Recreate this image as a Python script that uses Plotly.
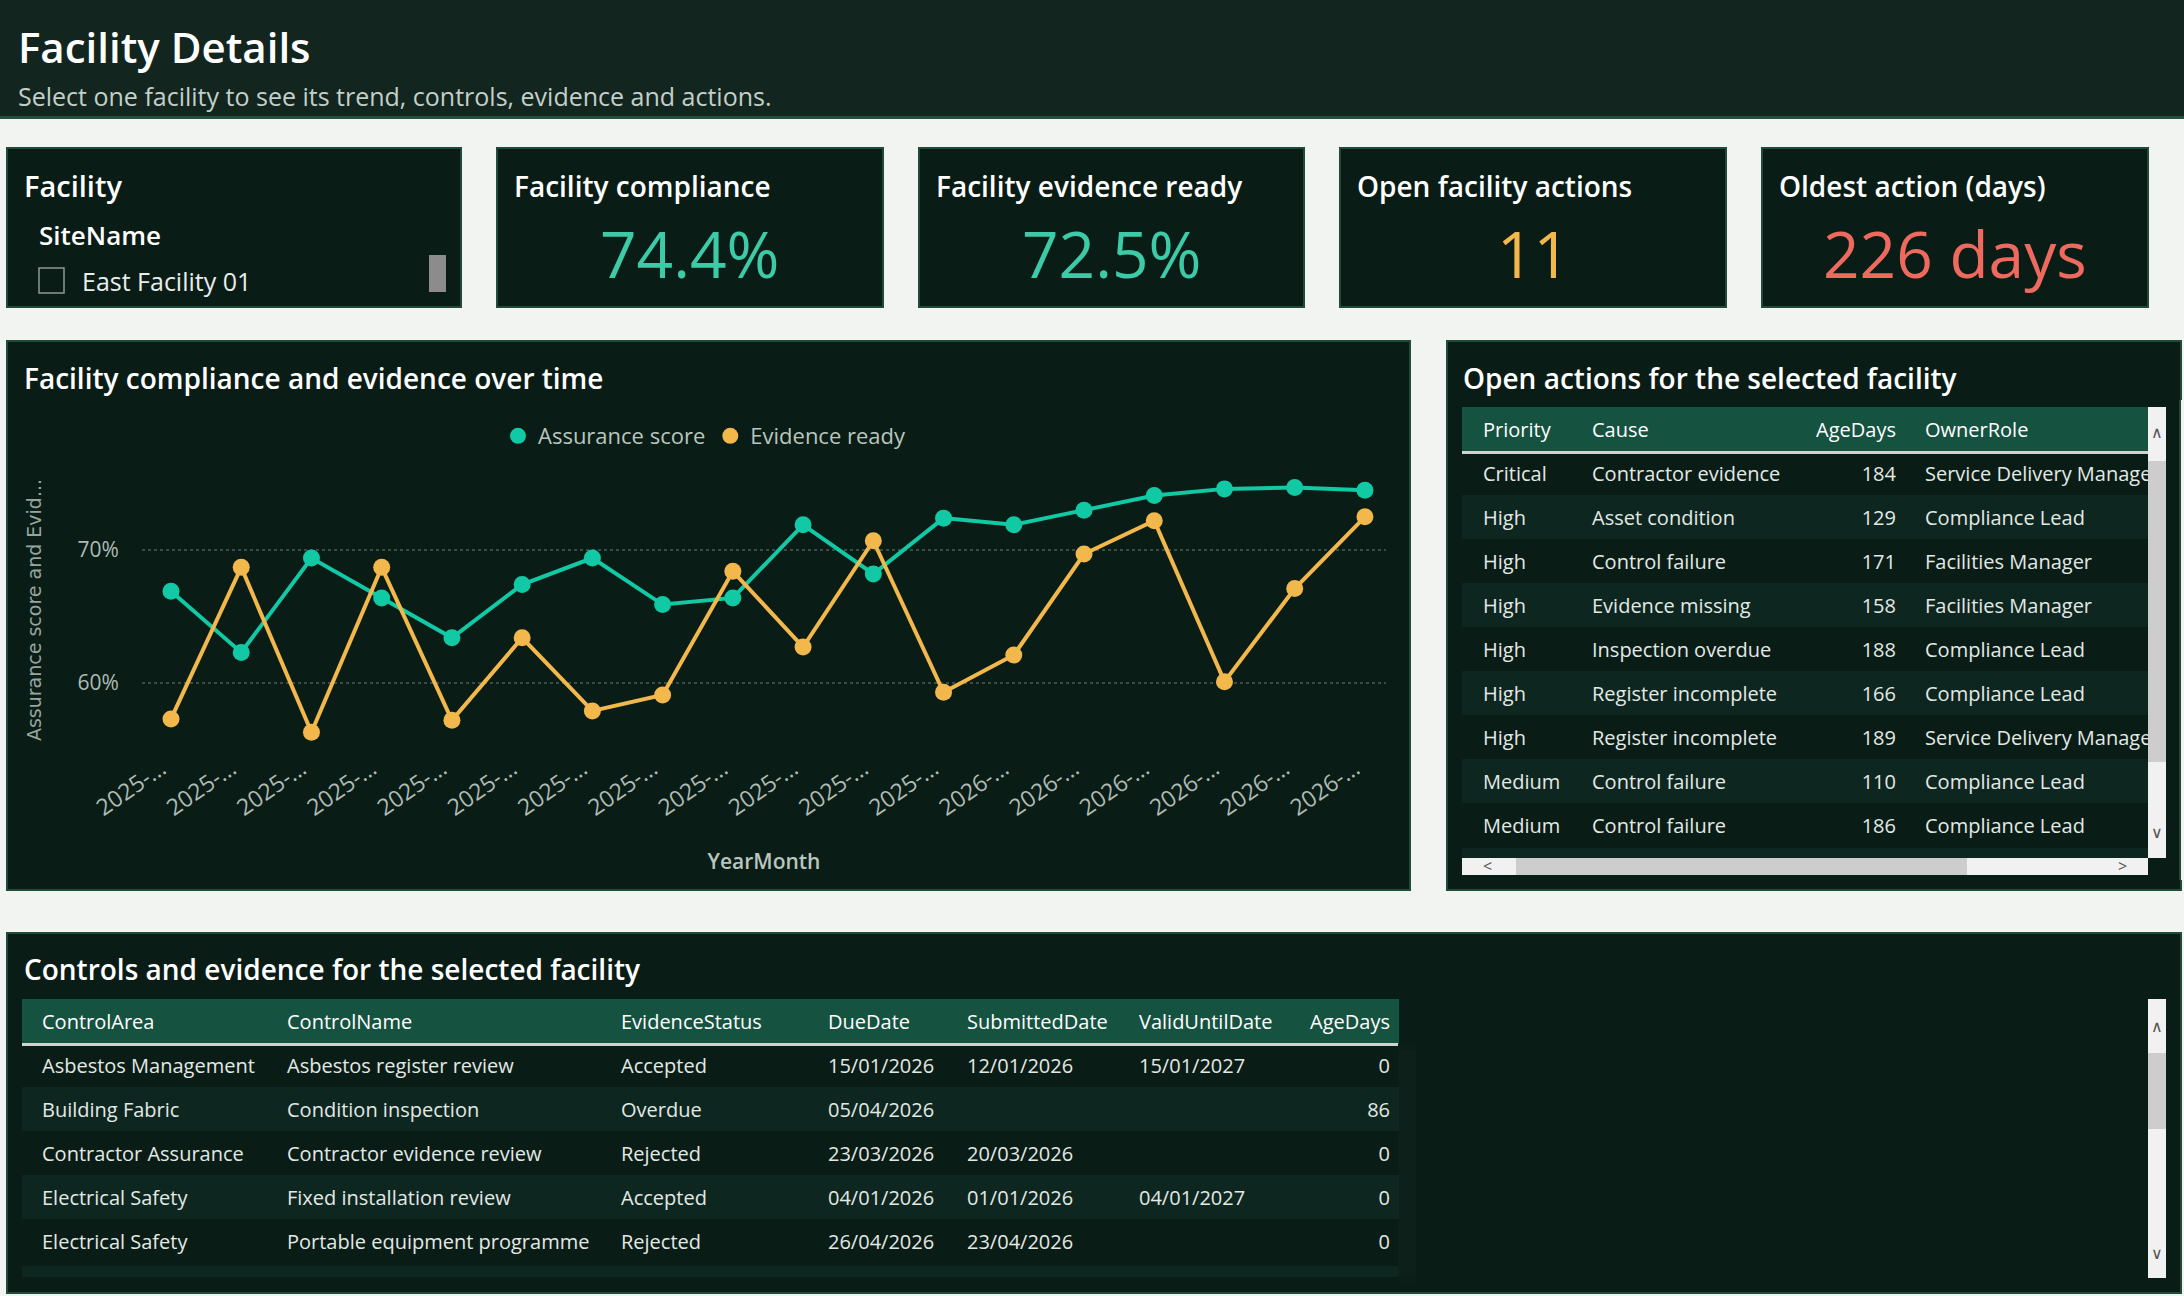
import plotly.graph_objects as go

W, H = 2184, 1296
FONT = 'Segoe UI, Open Sans, sans-serif'

PAGE = '#f2f4f1'
BAND = '#13251f'
CARD = '#0a1c16'
EDGE = '#1f4a3c'
ROW_ALT = '#0e2620'
HEAD = '#15523f'
TEAL = '#12c9a5'
GOLD = '#f2b84b'
MUTED = '#aebbb4'
CLEAR = 'rgba(0,0,0,0)'

## Data

months = ['2025-01', '2025-02', '2025-03', '2025-04', '2025-05', '2025-06',
          '2025-07', '2025-08', '2025-09', '2025-10', '2025-11', '2025-12',
          '2026-01', '2026-02', '2026-03', '2026-04', '2026-05', '2026-06']
assurance = [66.9, 62.3, 69.4, 66.4, 63.4, 67.4, 69.4, 65.9, 66.4,
             71.9, 68.2, 72.4, 71.9, 73.0, 74.1, 74.6, 74.7, 74.5]
evidence = [57.3, 68.7, 56.3, 68.7, 57.2, 63.4, 57.9, 59.1, 68.4,
            62.7, 70.7, 59.3, 62.1, 69.7, 72.2, 60.1, 67.1, 72.5]
y_ticks = [60, 70]

kpi_titles = ['Facility compliance', 'Facility evidence ready',
              'Open facility actions', 'Oldest action (days)']
kpi_values = ['74.4%', '72.5%', '11', '226 days']

act_header = ['Priority', 'Cause', 'AgeDays', 'OwnerRole']
act_priority = ['Critical', 'High', 'High', 'High', 'High', 'High', 'High', 'Medium', 'Medium']
act_cause = ['Contractor evidence', 'Asset condition', 'Control failure', 'Evidence missing',
             'Inspection overdue', 'Register incomplete', 'Register incomplete',
             'Control failure', 'Control failure']
act_age = [184, 129, 171, 158, 188, 166, 189, 110, 186]
act_owner = ['Service Delivery Manager', 'Compliance Lead', 'Facilities Manager',
             'Facilities Manager', 'Compliance Lead', 'Compliance Lead',
             'Service Delivery Manager', 'Compliance Lead', 'Compliance Lead']

ctl_header = ['ControlArea', 'ControlName', 'EvidenceStatus', 'DueDate',
              'SubmittedDate', 'ValidUntilDate', 'AgeDays']
ctl_area = ['Asbestos Management', 'Building Fabric', 'Contractor Assurance',
            'Electrical Safety', 'Electrical Safety']
ctl_name = ['Asbestos register review', 'Condition inspection', 'Contractor evidence review',
            'Fixed installation review', 'Portable equipment programme']
ctl_status = ['Accepted', 'Overdue', 'Rejected', 'Accepted', 'Rejected']
ctl_due = ['15/01/2026', '05/04/2026', '23/03/2026', '04/01/2026', '26/04/2026']
ctl_submitted = ['12/01/2026', '', '20/03/2026', '01/01/2026', '23/04/2026']
ctl_valid = ['15/01/2027', '', '', '04/01/2027', '']
ctl_age = [0, 86, 0, 0, 0]

## Helpers

def px(x):
    return x / W

def py(y):
    return 1 - y / H

def rect(x0, y0, x1, y1, fill, line=None, lw=0, layer='below'):
    return dict(type='rect', xref='paper', yref='paper',
                x0=px(x0), x1=px(x1), y0=py(y1), y1=py(y0),
                fillcolor=fill, line=dict(color=line or fill, width=lw), layer=layer)

def label(x, y, s, size, color='#ffffff', weight=400, anchor='left', family=FONT):
    return dict(x=px(x), y=py(y), xref='paper', yref='paper', text=s, showarrow=False,
                xanchor=anchor, yanchor='middle',
                font=dict(family=family, size=size, color=color, weight=weight))

shapes = []
ann = []

# header band
shapes.append(rect(0, 0, W, 116, BAND))
shapes.append(rect(0, 116, W, 119, '#24503f'))
ann.append(label(16, 47, 'Facility Details', 42, weight=600))
ann.append(label(16, 96, 'Select one facility to see its trend, controls, evidence and actions.', 25, color='#c3d0c9'))

# cards
cards = [(7, 148, 461, 307), (497, 148, 883, 307), (919, 148, 1304, 307),
         (1340, 148, 1726, 307), (1762, 148, 2148, 307),
         (7, 341, 1410, 890), (1447, 341, 2181, 890), (7, 933, 2181, 1293)]
for c in cards:
    shapes.append(rect(*c, CARD, EDGE, 2))

# slicer
ann.append(label(22, 186, 'Facility', 29, weight=600))
ann.append(label(37, 235, 'SiteName', 26, weight=600))
ann.append(label(80, 281, 'East Facility 01', 25, color='#e8eeea'))
shapes.append(rect(39, 268, 64, 293, CARD, '#8f9994', 1.5))
shapes.append(rect(429, 255, 446, 292, '#8c8c8c'))

# KPI cards
kpi_colors = ['#3dcaa6', '#3dcaa6', GOLD, '#ee6a5f']
for (x0, y0, x1, y1), t, v, col in zip(cards[1:5], kpi_titles, kpi_values, kpi_colors):
    ann.append(label(x0 + 15, 186, t, 28, weight=600))
    ann.append(label((x0 + x1) / 2, 254, v, 64, color=col, anchor='center'))

# card titles
ann.append(label(22, 378, 'Facility compliance and evidence over time', 28, weight=600))
ann.append(label(1461, 378, 'Open actions for the selected facility', 28, weight=600))
ann.append(label(22, 969, 'Controls and evidence for the selected facility', 28, weight=600))

## Chart

fig = go.Figure()
for name, vals, col in [('Assurance score', assurance, TEAL), ('Evidence ready', evidence, GOLD)]:
    fig.add_trace(go.Scatter(x=months, y=vals, mode='lines', line=dict(color=col, width=4),
                             showlegend=False, hoverinfo='skip'))
    fig.add_trace(go.Scatter(x=months, y=vals, mode='markers', name=name,
                             marker=dict(color=col, size=17)))

## Tables
# drawn twice: a striped layer, then the text layer nudged down so it sits mid-row

hdr_font = dict(family=FONT, size=20, color='#ffffff')
cell_font = dict(family=FONT, size=20, color='#e3e9e5')
NUDGE = 7

def add_table(x0, x1, top, bottom, widths, header, columns, align, gap_after=None):
    n = len(columns[0])
    rows = [CARD if i % 2 == 0 else ROW_ALT for i in range(n)]
    cols = [[''] * n] + columns
    hdr = [''] + header
    al = ['left'] + align
    if gap_after is not None:
        k = gap_after + 2
        cols.insert(k, [''] * n)
        hdr.insert(k, '')
        al.insert(k, 'left')
    fig.add_trace(go.Table(
        domain=dict(x=[px(x0), px(x1)], y=[py(bottom), py(top)]),
        columnwidth=widths,
        header=dict(values=[''] * len(hdr), fill_color=HEAD, line_color=HEAD, height=44),
        cells=dict(values=[[''] * n for _ in cols], fill_color=[rows] * len(cols),
                   line_color=[rows] * len(cols), height=44),
        hoverinfo='skip',
    ))
    fig.add_trace(go.Table(
        domain=dict(x=[px(x0), px(x1)], y=[py(bottom + NUDGE), py(top + NUDGE)]),
        columnwidth=widths,
        header=dict(values=hdr, fill_color=CLEAR, line_color=CLEAR, height=44,
                    font=hdr_font, align=al),
        cells=dict(values=cols, fill_color=CLEAR, line_color=CLEAR, height=44,
                   font=cell_font, align=al),
    ))

add_table(1462, W, 407, 858, [13, 109, 216, 104, 13, 267], act_header,
          [act_priority, act_cause, act_age, act_owner],
          ['left', 'left', 'right', 'left'], gap_after=2)
add_table(22, 1398, 999, 1277, [12, 245, 334, 207, 139, 172, 164, 103], ctl_header,
          [ctl_area, ctl_name, ctl_status, ctl_due, ctl_submitted, ctl_valid, ctl_age],
          ['left'] * 6 + ['right'])

# header underlines, partial row, masks and scrollbars
shapes.append(rect(1462, 451, 2148, 454, '#d0d4d0', layer='above'))
shapes.append(rect(22, 1043, 1398, 1046, '#d0d4d0', layer='above'))
shapes.append(rect(22, 1266, 1398, 1277, ROW_ALT))
shapes.append(rect(1462, 848, 2148, 858, ROW_ALT, layer='above'))
shapes.append(rect(2166, 400, 2181, 880, CARD, layer='above'))
shapes.append(rect(2181, 400, W, 880, PAGE, layer='above'))
shapes.append(dict(type='line', xref='paper', yref='paper', x0=px(2180), x1=px(2180),
                   y0=py(880), y1=py(400), line=dict(color=EDGE, width=2), layer='above'))
shapes.append(rect(2148, 407, 2166, 858, '#f1f1f1', layer='above'))
shapes.append(rect(2148, 461, 2166, 762, '#cdcdcd', layer='above'))
shapes.append(rect(1462, 858, 2148, 875, '#f1f1f1', layer='above'))
shapes.append(rect(1516, 858, 1967, 875, '#cdcdcd', layer='above'))
shapes.append(rect(2148, 999, 2166, 1278, '#f1f1f1', layer='above'))
shapes.append(rect(2148, 1053, 2166, 1129, '#cdcdcd', layer='above'))
for x, y, s in [(2157, 432, '∧'), (2157, 832, '∨'), (1487, 866, '<'), (2122, 866, '>'),
                (2157, 1026, '∧'), (2157, 1253, '∨')]:
    ann.append(label(x, y, s, 16, color='#555555', anchor='center'))

## Layout

fig.update_layout(
    template='none',
    width=W, height=H, margin=dict(l=0, r=0, t=0, b=0, pad=0),
    paper_bgcolor=PAGE, plot_bgcolor=CLEAR,
    font=dict(family=FONT, color=MUTED),
    shapes=shapes, annotations=ann,
    legend=dict(orientation='h', x=px(705), xanchor='center', y=py(436), yanchor='middle',
                font=dict(size=22, color='#b9c6bf'), bgcolor=CLEAR),
    xaxis=dict(domain=[px(142), px(1386)], type='category', range=[-0.413, 17.3],
               automargin=False, tickmode='array', tickvals=months,
               ticktext=[mo[:4] + '-...' for mo in months],
               tickangle=-35, tickfont=dict(size=23, color=MUTED), showgrid=False,
               zeroline=False, showline=False, ticks='', ticklabelshift=-10,
               title=dict(text='YearMonth', standoff=32,
                          font=dict(size=21, color='#b9c6bf', weight=600))),
    yaxis=dict(domain=[py(750), py(470)], range=[54.96, 76.02], automargin=False,
               tickmode='array', tickvals=y_ticks, ticktext=[f'{v}%' for v in y_ticks],
               tickfont=dict(size=21, color=MUTED), ticks='outside', ticklen=18, tickcolor=CLEAR,
               gridcolor='#3b4c46', griddash='dot', gridwidth=1.5, zeroline=False, showline=False,
               title=dict(text='Assurance score and Evid...', standoff=30,
                          font=dict(family='DejaVu Sans', size=19, color='#97a59e'))),
)

fig.write_html('out.html', config={'displayModeBar': False},
               post_script="document.body.style.margin='0';")
